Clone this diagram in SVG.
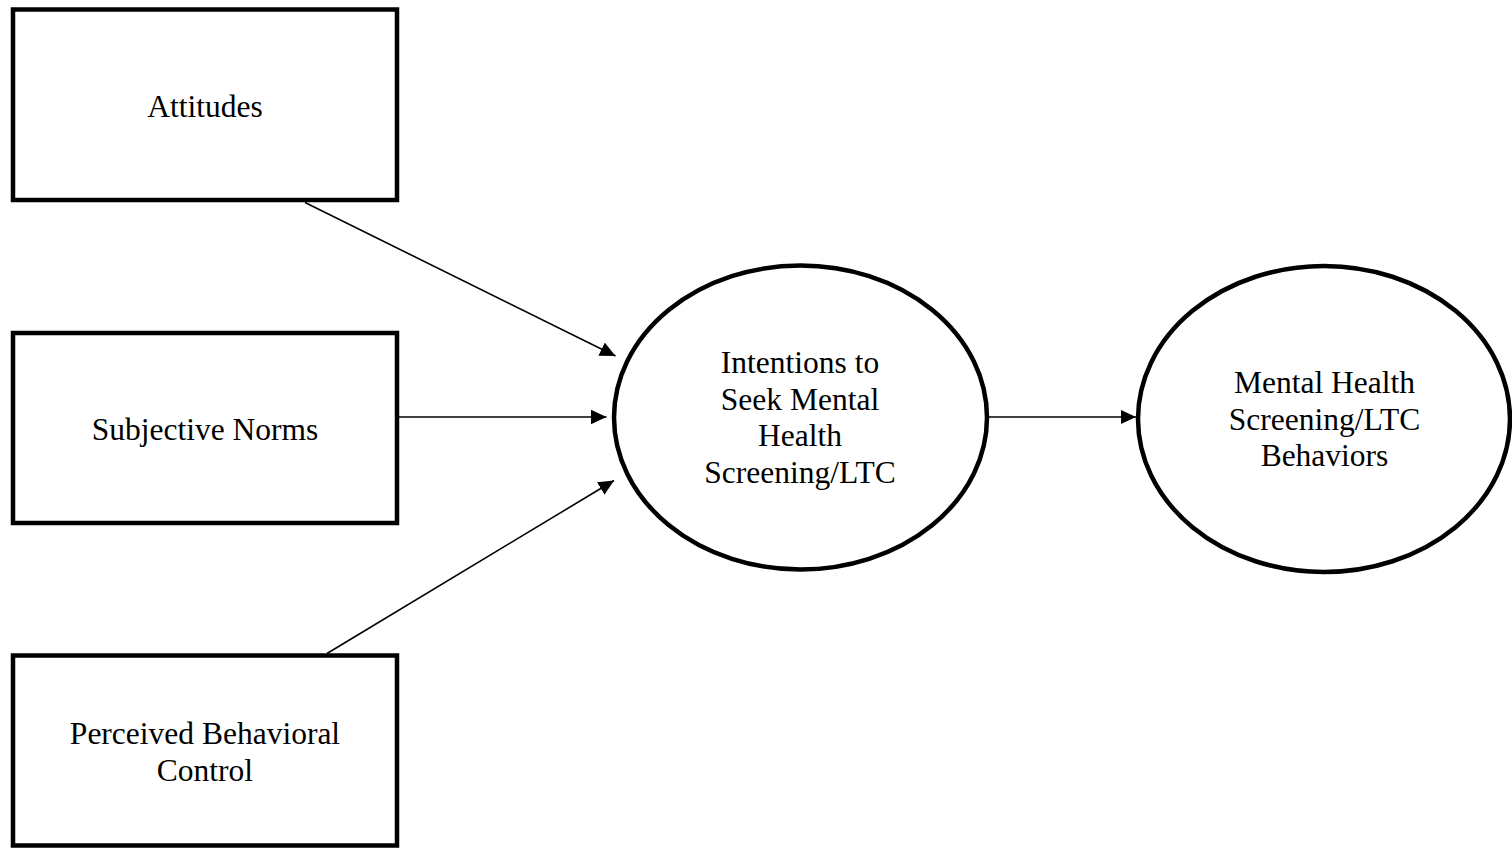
<svg xmlns="http://www.w3.org/2000/svg" width="1512" height="849" viewBox="0 0 1512 849">
  <style>
    .box { fill: #ffffff; stroke: #000000; stroke-width: 4.5; }
    .ell { fill: #ffffff; stroke: #000000; stroke-width: 4.5; }
    .lbl { font-family: "Liberation Serif", "Times New Roman", serif; font-size: 31.5px; fill: #000000; text-anchor: middle; }
    .edge { stroke: #000000; stroke-width: 1.6; fill: none; marker-end: url(#arrow); }
  </style>
  <defs>
    <marker id="arrow" markerUnits="userSpaceOnUse" markerWidth="16" markerHeight="15" refX="15.5" refY="7.25" orient="auto">
      <path d="M0,0 L15.5,7.25 L0,14.5 z" fill="#000000"/>
    </marker>
  </defs>
  <rect width="1512" height="849" fill="#ffffff"/>

  <g id="connectors">
    <line class="edge" x1="305" y1="202.5" x2="615.5" y2="356"/>
    <line class="edge" x1="399" y1="417" x2="606.5" y2="417"/>
    <line class="edge" x1="327" y1="653.5" x2="614" y2="480.5"/>
    <line class="edge" x1="989" y1="417" x2="1136" y2="417"/>
  </g>

  <g id="node-attitudes">
    <rect class="box" x="13" y="9.5" width="384" height="190.5"/>
    <text class="lbl" x="205" y="116.5">Attitudes</text>
  </g>

  <g id="node-subjective-norms">
    <rect class="box" x="13" y="333" width="384" height="190"/>
    <text class="lbl" x="205" y="440">Subjective Norms</text>
  </g>

  <g id="node-perceived-control">
    <rect class="box" x="13" y="655.5" width="384" height="190"/>
    <text class="lbl" x="205" y="744">Perceived Behavioral</text>
    <text class="lbl" x="205" y="780.5">Control</text>
  </g>

  <g id="node-intentions">
    <ellipse class="ell" cx="800.5" cy="417.5" rx="186.5" ry="152"/>
    <text class="lbl" x="800" y="373">Intentions to</text>
    <text class="lbl" x="800" y="409.7">Seek Mental</text>
    <text class="lbl" x="800" y="446.4">Health</text>
    <text class="lbl" x="800" y="483">Screening/LTC</text>
  </g>

  <g id="node-behaviors">
    <ellipse class="ell" cx="1324" cy="419" rx="186" ry="153"/>
    <text class="lbl" x="1324.5" y="392.7">Mental Health</text>
    <text class="lbl" x="1324.5" y="429.5">Screening/LTC</text>
    <text class="lbl" x="1324.5" y="466.3">Behaviors</text>
  </g>
</svg>
